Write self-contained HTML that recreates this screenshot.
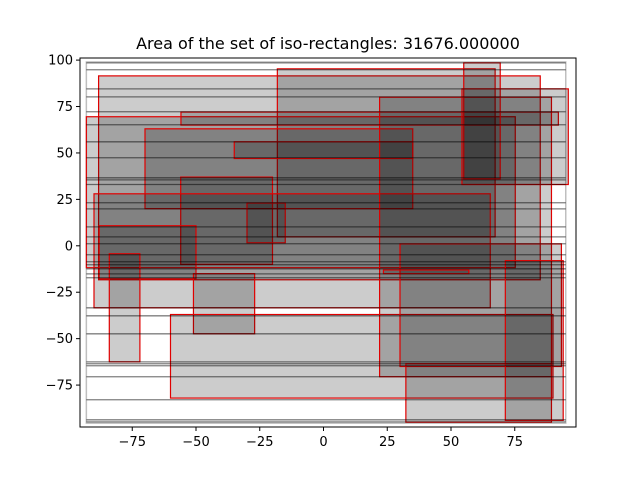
<!DOCTYPE html>
<html><head><meta charset="utf-8"><style>
body{margin:0;background:#fff}
svg{display:block;font-family:"DejaVu Sans","Liberation Sans",sans-serif}
</style></head><body>
<svg id="chart" width="640" height="480">
<text x="328" y="49" text-anchor="middle" font-size="16">Area of the set of iso-rectangles: 31676.000000</text>
<g id="plot"></g>
<rect x="80" y="58" width="496" height="369" fill="none" stroke="#000" stroke-width="1"/>
<g id="axes"></g>
</svg>
<script>
const rectX0=[-88.2,-18.1,-93,-55.9,-70,-35,-56,-30,-90,-88,-84,-51,-60,22,30,32.3,71.3,23.5,55,54.3];
const rectX1=[85,67.3,75.2,92.1,35,35,-20,-15,65.4,-50,-72,-27,90,89.4,93.3,89.4,94,57,69.3,96];
const rectY0=[-18.3,4.8,-11.8,65,20,47,-10,1.6,-33.4,-17.8,-62.5,-47.4,-82,-70.5,-65,-95,-94,-15,36,33];
const rectY1=[91.5,95.3,69.5,72,63,56,37,23,28,10.8,-4.3,-15,-37,80,1,-63.5,-8,-13,98.5,84.5];
const lineY=[98.5,94.8,84.5,80.2,72.2,65.2,56,47.4,36.6,35.5,33,23.2,19.9,10.2,4.8,1.1,-4.8,-8.6,-10.2,-12.4,-15.1,-17.2,-33.4,-37.7,-47.4,-62.5,-63.5,-64.6,-70.5,-82.9,-93.7,-94.8];
const xTicks=[-75,-50,-25,0,25,50,75];
const yTicks=[100,75,50,25,0,-25,-50,-75];
const NS="http://www.w3.org/2000/svg";
const sx=v=>323.5+v*2.55;
const sy=v=>245.8-v*1.857;
const plot=document.getElementById('plot'),axes=document.getElementById('axes');
function mk(tag,at,parent){const e=document.createElementNS(NS,tag);for(const k in at)e.setAttribute(k,at[k]);parent.appendChild(e);return e;}
const frame=mk('rect',{x:sx(-93),y:sy(99),width:sx(95)-sx(-93),height:sy(-95.5)-sy(99),fill:'none',stroke:'rgba(0,0,0,0.25)','stroke-width':1.5},plot);


for(let i=0;i<rectX0.length;i++){
  const r=mk('rect',{x:sx(rectX0[i]),y:sy(rectY1[i]),width:sx(rectX1[i])-sx(rectX0[i]),height:sy(rectY0[i])-sy(rectY1[i]),fill:'rgba(0,0,0,0.2)',stroke:'#e00000','stroke-width':1.2},plot);
  
  
}
for(let i=0;i<lineY.length;i++){
  const l=mk('line',{x1:sx(-93),x2:sx(95),y1:sy(lineY[i]),y2:sy(lineY[i]),stroke:'rgba(0,0,0,0.5)','stroke-width':1.3},plot);
  
  
}
for(const t of xTicks){
  const x=sx(t);
  const tk=mk('line',{x1:x,x2:x,y1:427,y2:431,stroke:'#000'},axes);
  
  
  const tx=mk('text',{x:x,y:446,'text-anchor':'middle','font-size':13},axes);
  tx.textContent=(t<0?'\u2212'+(-t):t);
  
  
}
for(const t of yTicks){
  const y=sy(t);
  const tk=mk('line',{x1:76,x2:80,y1:y,y2:y,stroke:'#000'},axes);
  
  
  const tx=mk('text',{x:73,y:y+4.5,'text-anchor':'end','font-size':13},axes);
  tx.textContent=(t<0?'\u2212'+(-t):t);
  
  
}
</script>
</body></html>
